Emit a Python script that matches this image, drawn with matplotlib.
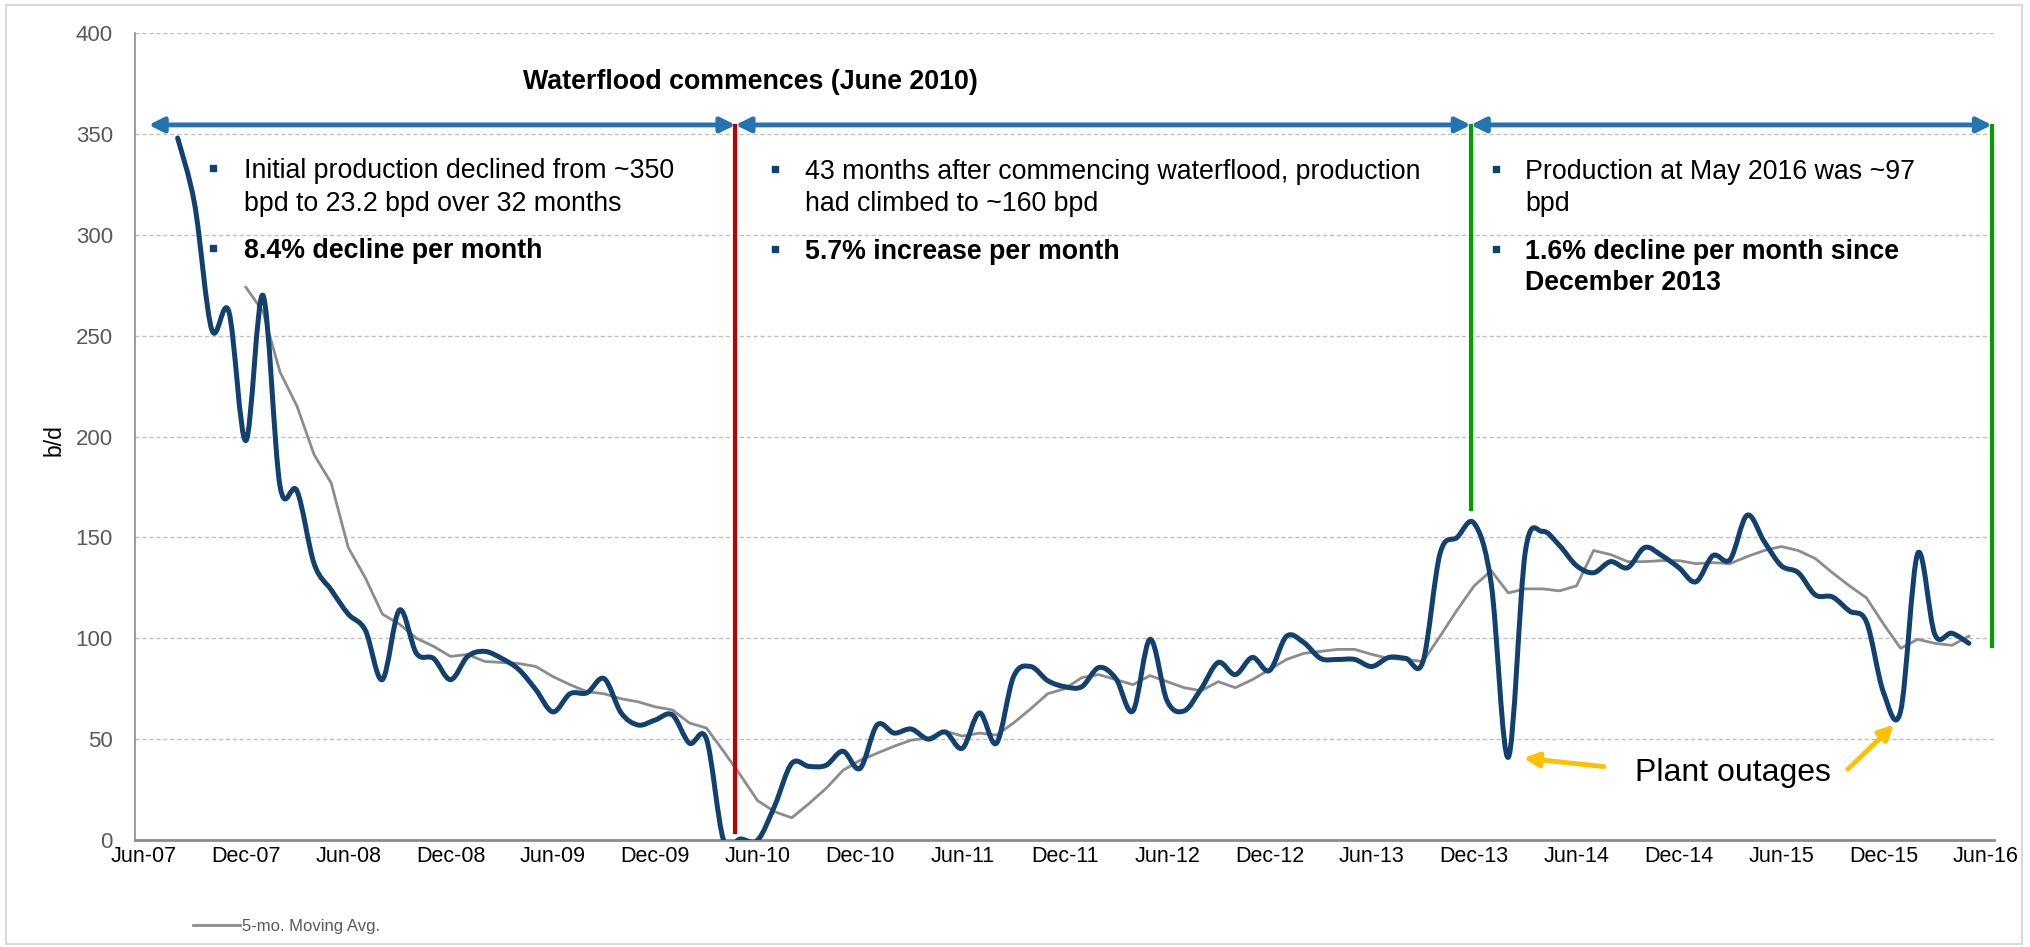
import numpy as np
import matplotlib
matplotlib.use('Agg')
import matplotlib.pyplot as plt
from matplotlib.path import Path
from matplotlib.patches import PathPatch, Rectangle

plt.rcParams['font.family'] = ['Liberation Sans', 'DejaVu Sans']

# months counted from Jun-07 (= 0)
tick_labels = ['Jun-07', 'Dec-07', 'Jun-08', 'Dec-08', 'Jun-09', 'Dec-09', 'Jun-10',
               'Dec-10', 'Jun-11', 'Dec-11', 'Jun-12', 'Dec-12', 'Jun-13', 'Dec-13',
               'Jun-14', 'Dec-14', 'Jun-15', 'Dec-15', 'Jun-16']

# monthly production b/d, Aug-07 .. May-16
prod_start = 2
production = [348, 315, 253, 262, 198, 270, 175.5, 173, 137, 124,
              112, 104, 79.5, 114, 92.5, 90, 79.5, 91, 93.5, 90,
              84.5, 74.5, 63.5, 72.5, 73, 80, 63, 57, 59.5, 62,
              48, 50, 0, 0.5, 0, 17, 38, 36.5, 37, 44,
              35.5, 57, 53, 55, 50, 53.5, 45.5, 63, 48, 81,
              86, 79, 76, 76, 85.5, 80, 64, 99.5, 69, 64,
              75, 88, 82, 90.5, 84, 101, 98, 90, 89.5, 89.5,
              86, 90.5, 90, 88.5, 142, 150, 157, 127, 41, 143,
              153, 146, 136, 132.5, 138, 135, 145, 141, 135, 128,
              141, 139, 161, 148, 136, 132.5, 121.5, 120.5, 113.5, 108,
              73, 64, 142, 102, 102.5, 97.5]

# 5-month moving average, Dec-07 .. May-16
ma_start = 6
moving_avg = [274, 262, 232, 215, 191, 177, 145, 130, 112, 107,
              100, 96, 91, 92, 88.5, 88, 87.5, 86, 81, 77,
              73.5, 72.5, 70, 68.5, 66, 64.5, 58, 55.5, 44, 32,
              19.5, 14, 11, 18, 25.5, 34.5, 39.5, 43, 46.5, 49.5,
              50.5, 54, 51.5, 53, 52, 58, 65, 72.5, 75, 80.5,
              82, 79.5, 77, 81.5, 78.5, 75.5, 74, 78.5, 75.5, 79.5,
              84.5, 89.5, 92.5, 93.5, 94.5, 94.5, 92, 90, 89.5, 88.5,
              101, 114, 126, 133.5, 122.5, 124.5, 124.5, 123.5, 126, 143.5,
              141.5, 138, 138, 138.5, 138.5, 137, 137.5, 137, 140.5, 143.5,
              145.5, 143.5, 139.5, 132.5, 126, 120, 107, 95, 99.5, 97.5,
              96.5, 101]

BLUE = '#12416F'
ARROW_BLUE = '#2474B0'
GRAY = '#8C8C8C'

fig = plt.figure(figsize=(20.3, 9.47), dpi=100)
ax = fig.add_axes([0.0665, 0.113, 0.916, 0.852])

# smoothed production curve (bezier through the points, like Excel "smoothed line")
px = np.arange(len(production)) + prod_start
py = np.array(production, dtype=float)
pts = np.column_stack([px, py])
verts = [pts[0]]
codes = [Path.MOVETO]
n = len(pts)
for i in range(n - 1):
    p_prev = pts[i - 1] if i > 0 else pts[i]
    p_next2 = pts[i + 2] if i + 2 < n else pts[i + 1]
    c1 = pts[i] + (pts[i + 1] - p_prev) / 6.0
    c2 = pts[i + 1] - (p_next2 - pts[i]) / 6.0
    verts += [c1, c2, pts[i + 1]]
    codes += [Path.CURVE4] * 3
ax.add_patch(PathPatch(Path(verts, codes), facecolor='none', edgecolor=BLUE,
                       lw=3.6, capstyle='round', joinstyle='round', zorder=4))

mx = np.arange(len(moving_avg)) + ma_start
ma_line, = ax.plot(mx, moving_avg, color=GRAY, lw=2, zorder=3,
                   label='5-mo. Moving Avg.')

ax.set_xlim(-0.5, 108.5)
ax.set_ylim(0, 400)
ax.set_yticks(np.arange(0, 401, 50))
ax.set_xticks(np.arange(0, 109, 6))
ax.set_xticklabels(tick_labels)
ax.tick_params(axis='y', length=0, pad=16, labelsize=16, labelcolor='#595959')
ax.tick_params(axis='x', length=0, pad=4, labelsize=15.5, labelcolor='black')
ax.grid(axis='y', color='#BFBFBF', linestyle=(0, (3, 2)), lw=1)
ax.set_axisbelow(True)
for s in ['top', 'right']:
    ax.spines[s].set_visible(False)
ax.spines['left'].set_color('#8C8C8C')
ax.spines['left'].set_linewidth(1.2)
ax.spines['bottom'].set_color('#8C8C8C')
ax.spines['bottom'].set_linewidth(2)

fig.text(54 / 2030, 1 - 440 / 947, 'b/d', rotation=90, fontsize=16.5,
         ha='center', va='center')

# phase dividers
ax.plot([34.7, 34.7], [354, 4], color='#C00000', lw=3, zorder=5)
ax.plot([77.8, 77.8], [354, 164], color='#00A000', lw=3, zorder=5)
ax.plot([108.35, 108.35], [354, 96], color='#00A000', lw=3, zorder=5, clip_on=False)

for x0, x1 in [(0.3, 34.7), (34.7, 77.8), (77.8, 108.35)]:
    ax.annotate('', xy=(x1, 354.5), xytext=(x0, 354.5),
                arrowprops=dict(arrowstyle='<|-|>', color=ARROW_BLUE, lw=3.5,
                                mutation_scale=22, shrinkA=0, shrinkB=0),
                annotation_clip=False, zorder=6)

ax.text(35.6, 377.5, 'Waterflood commences (June 2010)', fontsize=19.3,
        fontweight='bold', ha='center', va='center_baseline')

notes = [
    (4.1, 5.9, [('Initial production declined from ~350', 333.3, 'normal'),
                ('bpd to 23.2 bpd over 32 months', 316.9, 'normal'),
                ('8.4% decline per month', 293.3, 'bold')], [333.3, 293.3]),
    (37.0, 38.8, [('43 months after commencing waterflood, production', 332.8, 'normal'),
                  ('had climbed to ~160 bpd', 317, 'normal'),
                  ('5.7% increase per month', 293, 'bold')], [332.8, 293]),
    (79.3, 81.0, [('Production at May 2016 was ~97', 332.8, 'normal'),
                  ('bpd', 317, 'normal'),
                  ('1.6% decline per month since', 293, 'bold'),
                  ('December 2013', 277.5, 'bold')], [332.8, 293]),
]
for bx, tx, lines, bullets in notes:
    for txt, y, w in lines:
        ax.text(tx, y, txt, fontsize=19.3, fontweight=w, ha='left',
                va='center_baseline', zorder=7)
    ax.plot([bx] * len(bullets), bullets, linestyle='none', marker='s',
            markersize=5, color=BLUE, zorder=7)

# plant outages
ax.text(87.4, 34.8, 'Plant outages', fontsize=23, ha='left', va='center_baseline')
for tail, head in [((85.6, 36.4), (80.9, 40.6)), ((99.9, 35.1), (102.6, 57.1))]:
    ax.annotate('', xy=head, xytext=tail,
                arrowprops=dict(arrowstyle='-|>', color='#FFC000', lw=3.5,
                                mutation_scale=22, shrinkA=0, shrinkB=0))

# legend with only the moving average
leg = fig.legend(handles=[ma_line], loc='center left',
                 bbox_to_anchor=(178 / 2030, 1 - 926 / 947), frameon=False,
                 handlelength=2.8, handletextpad=0.15, fontsize=12)
for t in leg.get_texts():
    t.set_color('#595959')

fig.patches.append(Rectangle((6 / 2030, 3 / 947), 2016 / 2030, 939 / 947,
                             transform=fig.transFigure, fill=False,
                             edgecolor='#D9D9D9', lw=1.5))

fig.savefig('out.png', dpi=100)
